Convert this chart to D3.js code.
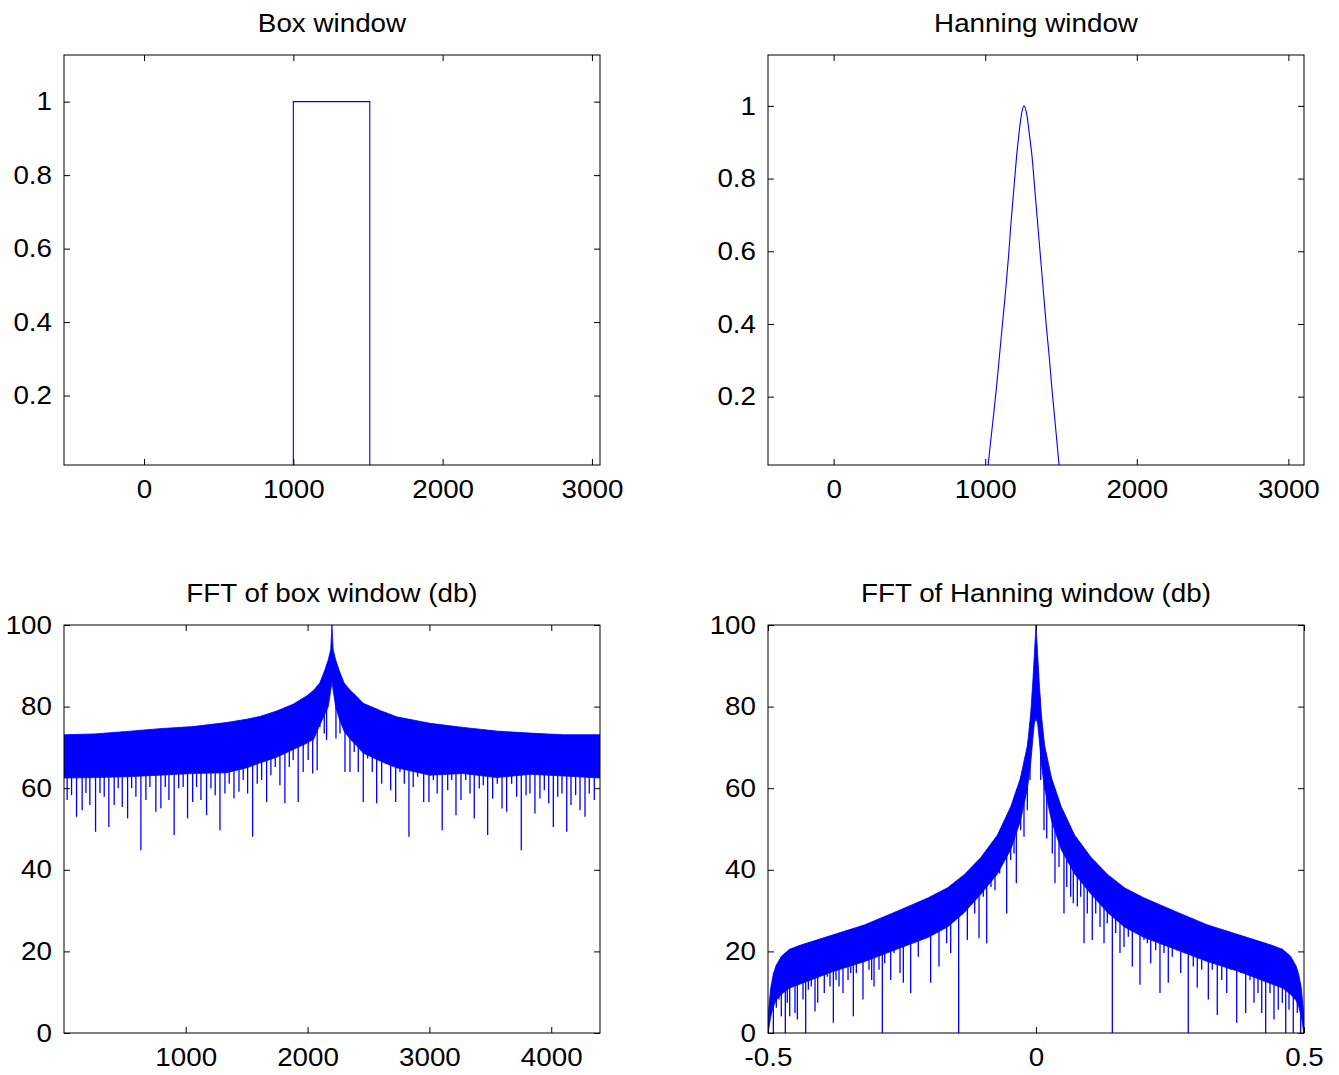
<!DOCTYPE html>
<html lang="en">
<head>
<meta charset="UTF-8">
<title>Box and Hanning windows</title>
<script src="https://cdn.jsdelivr.net/npm/d3@7"></script>
<style>
  body { margin: 0; background: #fff; }
  text { font-family: "Liberation Sans", Arial, sans-serif; fill: #000; }
</style>
</head>
<body>
<script>
// ---- data ----

// time-domain windows
const boxTimeX = [0, 1000, 1000, 1512, 1512, 3000];
const boxTimeY = [0, 0, 1, 1, 0, 0];

const hannTimeX = [1019, 1049, 1072.5, 1093.4, 1114.2, 1135, 1153.6, 1169.8, 1188.3, 1206.9, 1223, 1237, 1255.5,
  1276.3, 1290.3, 1308.8, 1327.3, 1345.8, 1364.4, 1382.9, 1401.4, 1422.3, 1440.8, 1461.7, 1487.2];
const hannTimeY = [0.012, 0.127, 0.218, 0.310, 0.402, 0.494, 0.585, 0.677, 0.769, 0.861, 0.925, 0.971, 1.0,
  0.971, 0.925, 0.861, 0.769, 0.677, 0.585, 0.494, 0.402, 0.310, 0.218, 0.127, 0.012];

// FFT of box window: dense band (upper edge / lower edge) plus the deeper single dips
const boxEnvF = [0, 250, 515, 788, 1059, 1336, 1500, 1609, 1746, 1882, 1992, 2050, 2100, 2140, 2170, 2190, 2200,
  2210, 2230, 2260, 2300, 2350, 2400, 2457, 2600, 2731, 3004, 3278, 3552, 3825, 4099, 4400];
const boxEnvTop = [73.1, 73.3, 73.9, 74.6, 75.1, 76.1, 76.9, 77.6, 78.9, 80.6, 82.6, 84.0, 85.8, 88.8, 91.5, 94.0, 100,
  94.0, 91.5, 88.8, 85.8, 84.0, 82.6, 80.8, 79.0, 77.5, 75.9, 74.9, 74.0, 73.5, 73.1, 73.1];
const boxEnvLow = [62.5, 62.6, 62.8, 63.2, 63.6, 63.8, 65.0, 66.2, 67.6, 69.5, 71.0, 72.0, 75.5, 78.0, 80.0, 84.0, 86.0,
  84.0, 80.0, 77.0, 74.0, 72.0, 70.5, 68.6, 66.6, 65.0, 63.2, 63.6, 62.6, 63.4, 63.0, 62.5];

const boxSpikeF = [27, 63, 104, 150, 181, 213, 260, 296, 331, 369, 413, 446, 479, 523, 556, 591, 632, 673, 706, 755,
  796, 832, 862, 905, 942, 979, 1015, 1057, 1089, 1125, 1171, 1207, 1242, 1281, 1322, 1357, 1396, 1437, 1472, 1508,
  1549, 1587, 1623, 1664, 1699, 1735, 1773, 1814, 1850, 1882, 1923, 1964, 2005, 2042, 2079, 2101, 2137, 2156,
  2233, 2266, 2307, 2348, 2383, 2416, 2457, 2493, 2531, 2567, 2608, 2643, 2682, 2723, 2758, 2794, 2832, 2867, 2904,
  2953, 2996, 3032, 3064, 3105, 3150, 3183, 3218, 3259, 3298, 3333, 3368, 3409, 3442, 3478, 3519, 3557, 3596, 3634,
  3675, 3716, 3754, 3793, 3825, 3866, 3907, 3943, 3979, 4017, 4053, 4088, 4127, 4162, 4200, 4236, 4277, 4312, 4353];
const boxSpikeDb = [57.1, 58.3, 53.0, 54.6, 58.8, 55.9, 49.3, 58.8, 57.9, 50.5, 55.9, 60, 55.4, 52.6, 60, 57.9, 44.8,
  57.1, 60.3, 54.2, 55.1, 60.3, 57.1, 48.5, 60, 60.3, 52.6, 56.6, 60.3, 57.1, 53.4, 59.9, 58.3, 49.7, 58.7, 61.1, 57.5,
  59.1, 62, 58.7, 48.1, 61.1, 62, 56.6, 63.2, 65.2, 60.7, 56.3, 65.2, 66.9, 56.6, 64, 66.9, 63.6, 64.4, 75, 73.4, 71.8,
  72.2, 73.4, 64, 64, 68.9, 64, 56.6, 67.3, 64, 56.3, 61.1, 66, 59.5, 56.6, 64, 61.1, 48.1, 60.3, 62.8, 56.6, 56.6, 62,
  58.7, 49.7, 59.5, 62, 53.4, 57.1, 62, 58.7, 52.6, 59.9, 60.7, 48.5, 57.5, 61.1, 55, 54.2, 61.1, 57.9, 44.8, 58.3,
  58.7, 53.8, 57.5, 59.5, 56.3, 50.5, 57.9, 58.7, 49.3, 55.9, 58.3, 54.6, 53, 58.7, 57.1];

// FFT of Hanning window
const hannEnvF = [-0.5, -0.498, -0.495, -0.49, -0.485, -0.475, -0.46, -0.44, -0.38, -0.32, -0.26, -0.2, -0.165,
  -0.134, -0.103, -0.072, -0.047, -0.029, -0.016, -0.01, -0.006, -0.003, 0, 0.003, 0.006, 0.01, 0.016, 0.029, 0.047,
  0.072, 0.103, 0.134, 0.165, 0.2, 0.26, 0.32, 0.38, 0.44, 0.46, 0.475, 0.485, 0.49, 0.495, 0.498, 0.5];
const hannEnvTop = [3, 7, 11, 14.5, 16.5, 18.8, 20.5, 21.5, 24, 26.5, 29.8, 33.2, 35.6, 38.8, 43, 48.5, 55.5, 62.5,
  70.5, 78, 86, 93, 100, 93, 86, 78, 70.5, 62.5, 55.5, 48.5, 43, 38.8, 35.6, 33.2, 29.8, 26.5, 24, 21.5, 20.5, 18.8,
  16.5, 14.5, 11, 7, 3];
const hannEnvLow = [0, 1.5, 4, 6.5, 8, 9.5, 11, 12, 15, 17.5, 20.5, 23.5, 26, 29.5, 34, 39, 45, 52, 60, 66, 72, 76, 77,
  76, 72, 66, 60, 52, 45, 39, 34, 29.5, 26, 23.5, 20.5, 17.5, 15, 12, 11, 9.5, 8, 6.5, 4, 1.5, 0];

const hannSpikeF = [-0.490, -0.4845, -0.4795, -0.4752, -0.4677, -0.464, -0.4595, -0.4546, -0.4496, -0.4452, -0.4403,
  -0.4347, -0.4297, -0.4247, -0.4192, -0.4123, -0.4073, -0.4006, -0.395, -0.3894, -0.3843, -0.3781, -0.3731, -0.3675,
  -0.3601, -0.355, -0.3507, -0.3457, -0.3408, -0.3352, -0.3302, -0.3228, -0.3165, -0.3116, -0.3066, -0.3022, -0.2979,
  -0.2929, -0.2867, -0.2823, -0.2774, -0.2711, -0.2649, -0.26, -0.2537, -0.2475, -0.242, -0.2338, -0.2257, -0.2196,
  -0.2121, -0.204, -0.1965, -0.1884, -0.181, -0.1729, -0.1667, -0.1592, -0.1511, -0.1443, -0.1362, -0.1281, -0.1219,
  -0.1144, -0.1063, -0.0983, -0.092, -0.084, -0.0765, -0.0678, -0.0616, -0.0547, -0.0473, -0.041, -0.0367, -0.0286,
  -0.0224, -0.0162, -0.0112,
  0.0037, 0.0088, 0.0149, 0.0200, 0.0304, 0.0354, 0.0429, 0.0522, 0.0573, 0.0647, 0.0696, 0.0771, 0.0834, 0.0896,
  0.0957, 0.1050, 0.1114, 0.1194, 0.1269, 0.1330, 0.1424, 0.1487, 0.1567, 0.1642, 0.1722, 0.1797, 0.1871, 0.1940,
  0.2015, 0.2077, 0.2140, 0.2233, 0.2313, 0.2388, 0.2468, 0.2543, 0.2625, 0.2700, 0.2774, 0.2841, 0.2935, 0.3009,
  0.3091, 0.3215, 0.3289, 0.3382, 0.3465, 0.3558, 0.3632, 0.3744, 0.3819, 0.3912, 0.3993, 0.4067, 0.4142, 0.4211,
  0.4285, 0.4366, 0.4440, 0.4520, 0.4595, 0.4659, 0.4720, 0.4800, 0.4875, 0.4938];
const hannSpikeDb = [0, 6.2, 8.2, 4.1, 0, 7.4, 4.1, 11.4, 4.9, 3.3, 12.3, 8.2, 0, 10.6, 11.4, 5.3, 7.4, 14.7, 9.8, 13.8,
  11.4, 2.5, 13, 11.4, 9.8, 17.1, 13, 14.7, 4.1, 14.7, 17.1, 8.2, 18.7, 15.5, 13, 11.4, 20.3, 15.5, 0, 17.1, 22, 13, 19.6,
  22.8, 14.7, 12.3, 22.8, 9.8, 24.5, 18.7, 22.8, 24, 12.3, 27.7, 16.3, 26, 22, 19.6, 30.5, 0, 30.1, 22.8, 33.4, 29.3,
  23.2, 33.4, 22, 35.8, 35, 39.1, 44, 29.3, 42.4, 44, 36.7, 49.7, 48.1, 54.6, 62,
  77.5, 62, 49.7, 47.7, 44, 36.7, 40.7, 29.3, 35.8, 33.4, 31.8, 31, 33.4, 22, 29.3, 22.8, 29.3, 26, 22, 26.9, 0, 24.5,
  19.6, 21.1, 23.6, 16.3, 24.8, 11.8, 22.8, 22, 17.1, 20.3, 9.8, 19.6, 12.3, 18.7, 20.3, 14.7, 19.6, 0, 16.3, 11.1, 15.5,
  8.2, 15.5, 4.4, 13, 9.8, 15.5, 2.5, 14.7, 4.9, 13, 7.4, 9.8, 4.9, 0, 9.8, 3.3, 5.7, 7.4, 0, 5.7, 0, 4.9, 0];

// ticks and labels
const timeXTicks = [0, 1000, 2000, 3000];
const timeYTicks = [0.2, 0.4, 0.6, 0.8, 1];
const timeYLabels = ["0.2", "0.4", "0.6", "0.8", "1"];
const dbTicks = [0, 20, 40, 60, 80, 100];
const boxFftXTicks = [1000, 2000, 3000, 4000];
const hannFftXTicks = [-0.5, 0, 0.5];
const hannFftXLabels = ["-0.5", "0", "0.5"];

// ---- drawing ----
const width = 1339, height = 1075;
const blue = "#0000ff";
const fontSize = 25.5;
const stretch = "scale(1.09,1)"; // reference text is a bit wider than Liberation Sans

const svg = d3.select("body").append("svg")
  .attr("width", width)
  .attr("height", height)
  .attr("viewBox", [0, 0, width, height]);

let clipId = 0;

function makePanel(opt) {
  const x = d3.scaleLinear(opt.xDomain, [opt.left, opt.left + opt.w]);
  const y = d3.scaleLinear(opt.yDomain, [opt.top + opt.h, opt.top]);
  const g = svg.append("g");

  const id = "clip" + (clipId++);
  g.append("clipPath").attr("id", id)
    .append("rect")
    .attr("x", opt.left).attr("y", opt.top)
    .attr("width", opt.w).attr("height", opt.h);
  const plot = g.append("g").attr("clip-path", `url(#${id})`);

  // title
  g.append("text")
    .attr("x", opt.left + opt.w / 2)
    .attr("y", opt.top - 23)
    .attr("text-anchor", "middle")
    .attr("font-size", fontSize)
    .attr("transform-origin", `${opt.left + opt.w / 2} 0`)
    .attr("transform", stretch)
    .text(opt.title);

  // MATLAB style: ticks inside on all four sides, labels only bottom and left
  const bottom = d3.axisBottom(x).tickValues(opt.xTicks).tickSizeInner(-6).tickSizeOuter(0).tickPadding(15)
    .tickFormat((d, i) => opt.xLabels ? opt.xLabels[i] : d);
  const left = d3.axisLeft(y).tickValues(opt.yTicks).tickSizeInner(-6).tickSizeOuter(0).tickPadding(11)
    .tickFormat((d, i) => opt.yLabels ? opt.yLabels[i] : d);
  const topAx = d3.axisTop(x).tickValues(opt.xTicks).tickSizeInner(-6).tickSizeOuter(0).tickFormat("");
  const rightAx = d3.axisRight(y).tickValues(opt.yTicks).tickSizeInner(-6).tickSizeOuter(0).tickFormat("");

  const axes = [
    [bottom, `translate(0,${opt.top + opt.h})`],
    [left, `translate(${opt.left},0)`],
    [topAx, `translate(0,${opt.top})`],
    [rightAx, `translate(${opt.left + opt.w},0)`]
  ];
  axes.forEach(([ax, tr]) => {
    const a = g.append("g").attr("transform", tr).call(ax);
    a.select(".domain").remove();
    a.selectAll("line").attr("stroke", "#000");
    a.selectAll("text")
      .attr("font-size", fontSize)
      .attr("font-family", "Liberation Sans, Arial, sans-serif")
      .attr("fill", "#000")
      .attr("transform", stretch);
  });

  g.append("rect")
    .attr("x", opt.left).attr("y", opt.top)
    .attr("width", opt.w).attr("height", opt.h)
    .attr("fill", "none").attr("stroke", "#000").attr("stroke-width", 1);

  return { x, y, plot, g };
}

function drawLine(p, xs, ys, curve) {
  p.plot.append("path")
    .datum(d3.zip(xs, ys))
    .attr("fill", "none")
    .attr("stroke", blue)
    .attr("stroke-width", 1.1)
    .attr("d", d3.line().x(d => p.x(d[0])).y(d => p.y(d[1])).curve(curve || d3.curveLinear));
}

function drawSpectrum(p, envF, envTop, envLow, spikeF, spikeDb) {
  const env = d3.zip(envF, envTop, envLow);
  const id = "clip" + (clipId++);
  // spikes can only show below the upper edge of the band
  p.g.append("clipPath").attr("id", id)
    .append("path")
    .attr("d", d3.area().x(d => p.x(d[0])).y0(p.y.range()[0] + 2).y1(d => p.y(d[1]))(env));

  p.plot.append("g").attr("clip-path", `url(#${id})`)
    .selectAll("line")
    .data(d3.zip(spikeF, spikeDb))
    .join("line")
    .attr("x1", d => p.x(d[0])).attr("x2", d => p.x(d[0]))
    .attr("y1", d => p.y(d[1])).attr("y2", p.y.range()[1])
    .attr("stroke", blue)
    .attr("stroke-width", 1.3);

  p.plot.append("path")
    .datum(env)
    .attr("fill", blue)
    .attr("stroke", blue)
    .attr("stroke-width", 0.8)
    .attr("d", d3.area().x(d => p.x(d[0])).y0(d => p.y(d[2])).y1(d => p.y(d[1])));
}

// top left: box window
const p1 = makePanel({
  title: "Box window", left: 64, top: 55, w: 536, h: 410,
  xDomain: [-536, 3054], yDomain: [0.011, 1.127],
  xTicks: timeXTicks, yTicks: timeYTicks, yLabels: timeYLabels
});
drawLine(p1, boxTimeX, boxTimeY);

// top right: Hanning window
const p2 = makePanel({
  title: "Hanning window", left: 768, top: 55, w: 536, h: 410,
  xDomain: [-433, 3103], yDomain: [0.012, 1.14],
  xTicks: timeXTicks, yTicks: timeYTicks, yLabels: timeYLabels
});
drawLine(p2, hannTimeX, hannTimeY, d3.curveMonotoneX);

// bottom left: FFT of box window
const p3 = makePanel({
  title: "FFT of box window (db)", left: 64, top: 625, w: 536, h: 408,
  xDomain: [1, 4400], yDomain: [0, 100],
  xTicks: boxFftXTicks, yTicks: dbTicks
});
drawSpectrum(p3, boxEnvF, boxEnvTop, boxEnvLow, boxSpikeF, boxSpikeDb);

// bottom right: FFT of Hanning window
const p4 = makePanel({
  title: "FFT of Hanning window (db)", left: 768, top: 625, w: 536, h: 408,
  xDomain: [-0.5, 0.5], yDomain: [0, 100],
  xTicks: hannFftXTicks, xLabels: hannFftXLabels, yTicks: dbTicks
});
drawSpectrum(p4, hannEnvF, hannEnvTop, hannEnvLow, hannSpikeF, hannSpikeDb);
</script>
</body>
</html>
